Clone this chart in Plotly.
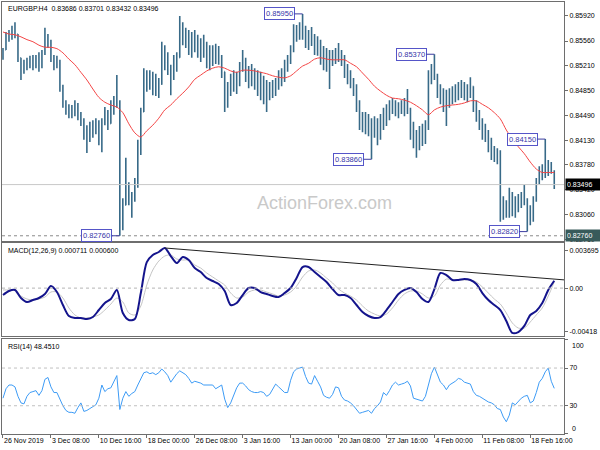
import plotly.graph_objects as go

# ---------------- data (EURGBP H4, each entry = one plotted bar) ----------------
open_ = [
0.8533, 0.8543, 0.8563, 0.8566, 0.8572, 0.8566, 0.8532, 0.8512, 0.8523, 0.8526,
0.8529, 0.8522, 0.8532, 0.8520, 0.8540, 0.8560, 0.8552, 0.8532, 0.8526, 0.8523,
0.8488, 0.8468, 0.8457, 0.8454, 0.8460, 0.8463, 0.8448, 0.8440, 0.8421, 0.8414,
0.8431, 0.8425, 0.8435, 0.8414, 0.8440, 0.8454, 0.8437, 0.8460, 0.8468, 0.8468,
0.8313, 0.8320, 0.8342, 0.8335, 0.8327, 0.8349, 0.8399, 0.8454, 0.8500, 0.8506,
0.8494, 0.8500, 0.8488, 0.8494, 0.8543, 0.8526, 0.8514, 0.8507, 0.8526, 0.8532,
0.8572, 0.8560, 0.8558, 0.8546, 0.8555, 0.8549, 0.8537, 0.8550, 0.8543, 0.8529,
0.8540, 0.8532, 0.8543, 0.8529, 0.8512, 0.8471, 0.8486, 0.8500, 0.8491, 0.8503,
0.8520, 0.8529, 0.8509, 0.8500, 0.8514, 0.8494, 0.8500, 0.8483, 0.8491, 0.8474,
0.8486, 0.8480, 0.8494, 0.8506, 0.8500, 0.8520, 0.8529, 0.8543, 0.8569, 0.8566,
0.8575, 0.8572, 0.8555, 0.8563, 0.8558, 0.8546, 0.8552, 0.8532, 0.8526, 0.8520,
0.8532, 0.8535, 0.8540, 0.8535, 0.8529, 0.8512, 0.8506, 0.8494, 0.8486, 0.8460,
0.8440, 0.8445, 0.8431, 0.8437, 0.8428, 0.8440, 0.8425, 0.8442, 0.8451, 0.8457,
0.8463, 0.8465, 0.8457, 0.8463, 0.8465, 0.8460, 0.8457, 0.8425, 0.8414, 0.8408,
0.8425, 0.8419, 0.8434, 0.8503, 0.8512, 0.8506, 0.8486, 0.8477, 0.8471, 0.8465,
0.8477, 0.8471, 0.8483, 0.8477, 0.8486, 0.8480, 0.8483, 0.8491, 0.8463, 0.8448,
0.8434, 0.8425, 0.8417, 0.8405, 0.8399, 0.8391, 0.8388, 0.8310, 0.8320, 0.8313,
0.8330, 0.8316, 0.8325, 0.8322, 0.8330, 0.8325, 0.8307, 0.8313, 0.8327, 0.8353,
0.8368, 0.8373, 0.8382, 0.8373, 0.83686]

high = [
0.8546, 0.8569, 0.8572, 0.8578, 0.8583, 0.8566, 0.8532, 0.8529, 0.8532, 0.8535,
0.8536, 0.8536, 0.8540, 0.8543, 0.8575, 0.8566, 0.8558, 0.8536, 0.8535, 0.8529,
0.8493, 0.8471, 0.8465, 0.8464, 0.8471, 0.8467, 0.8454, 0.8445, 0.8435, 0.8440,
0.8442, 0.8445, 0.8442, 0.8445, 0.8461, 0.8457, 0.8471, 0.8477, 0.8507, 0.8471,
0.8330, 0.8388, 0.8353, 0.8339, 0.8359, 0.8414, 0.8460, 0.8517, 0.8514, 0.8514,
0.8512, 0.8509, 0.8503, 0.8555, 0.8550, 0.8540, 0.8522, 0.8536, 0.8540, 0.8592,
0.8583, 0.8575, 0.8572, 0.8569, 0.8572, 0.8565, 0.8560, 0.8565, 0.8555, 0.8550,
0.8550, 0.8552, 0.8549, 0.8536, 0.8512, 0.8497, 0.8509, 0.8514, 0.8512, 0.8526,
0.8543, 0.8532, 0.8520, 0.8523, 0.8517, 0.8514, 0.8512, 0.8506, 0.8500, 0.8497,
0.8500, 0.8503, 0.8514, 0.8517, 0.8529, 0.8536, 0.8550, 0.8580, 0.8579, 0.8583,
0.85950, 0.8578, 0.8572, 0.8576, 0.8566, 0.8563, 0.8558, 0.8549, 0.8546, 0.8543,
0.8543, 0.8546, 0.8553, 0.8543, 0.8536, 0.8523, 0.8514, 0.8503, 0.8494, 0.8471,
0.8454, 0.8454, 0.8451, 0.8445, 0.8448, 0.8445, 0.8451, 0.8460, 0.8465, 0.8471,
0.8474, 0.8471, 0.8468, 0.8471, 0.8474, 0.8487, 0.8460, 0.8440, 0.8428, 0.8434,
0.8437, 0.8442, 0.8514, 0.8523, 0.85370, 0.8509, 0.8494, 0.8488, 0.8486, 0.8488,
0.8491, 0.8494, 0.8497, 0.8500, 0.8497, 0.8494, 0.8504, 0.8491, 0.8471, 0.8457,
0.8445, 0.8437, 0.8428, 0.8417, 0.8405, 0.8402, 0.8399, 0.8333, 0.8327, 0.8345,
0.8339, 0.8333, 0.8336, 0.8339, 0.8349, 0.8330, 0.8320, 0.8333, 0.8359, 0.8376,
0.8379, 0.84150, 0.8385, 0.8382, 0.83701]

low = [
0.8529, 0.8543, 0.8555, 0.8558, 0.8560, 0.8526, 0.8500, 0.8509, 0.8514, 0.8517,
0.8514, 0.8517, 0.8512, 0.8517, 0.8536, 0.8546, 0.8526, 0.8514, 0.8517, 0.8483,
0.8460, 0.8450, 0.8445, 0.8445, 0.8448, 0.8442, 0.8434, 0.8414, 0.8395, 0.8411,
0.8417, 0.8422, 0.8406, 0.8396, 0.8435, 0.8428, 0.8437, 0.8450, 0.8460, 0.82760,
0.8284, 0.8320, 0.8320, 0.8302, 0.8325, 0.8345, 0.8392, 0.8454, 0.8483, 0.8486,
0.8478, 0.8477, 0.8474, 0.8493, 0.8514, 0.8507, 0.8478, 0.8500, 0.8512, 0.8532,
0.8550, 0.8546, 0.8536, 0.8532, 0.8540, 0.8532, 0.8526, 0.8532, 0.8517, 0.8514,
0.8520, 0.8523, 0.8522, 0.8503, 0.8454, 0.8460, 0.8477, 0.8483, 0.8480, 0.8491,
0.8512, 0.8497, 0.8488, 0.8491, 0.8486, 0.8477, 0.8471, 0.8465, 0.8454, 0.8471,
0.8474, 0.8477, 0.8486, 0.8491, 0.8497, 0.8512, 0.8523, 0.8540, 0.8555, 0.8558,
0.8558, 0.8546, 0.8543, 0.8549, 0.8536, 0.8535, 0.8522, 0.8514, 0.8512, 0.8487,
0.8520, 0.8523, 0.8526, 0.8520, 0.8503, 0.8494, 0.8488, 0.8477, 0.8454, 0.8428,
0.8425, 0.8422, 0.8419, 0.83860, 0.8417, 0.8406, 0.8414, 0.8428, 0.8434, 0.8442,
0.8451, 0.8448, 0.8445, 0.8451, 0.8448, 0.8451, 0.8414, 0.8402, 0.8388, 0.8399,
0.8405, 0.8408, 0.8428, 0.8494, 0.8500, 0.8474, 0.8465, 0.8454, 0.8434, 0.8460,
0.8465, 0.8468, 0.8471, 0.8474, 0.8471, 0.8468, 0.8474, 0.8454, 0.8440, 0.8428,
0.8414, 0.8411, 0.8396, 0.8385, 0.8382, 0.8379, 0.8296, 0.8299, 0.8302, 0.8302,
0.8304, 0.8302, 0.8310, 0.8316, 0.8320, 0.82820, 0.8291, 0.8296, 0.8325, 0.8350,
0.8356, 0.8359, 0.8362, 0.8365, 0.83432]

close = [
0.8543, 0.8563, 0.8566, 0.8572, 0.8566, 0.8532, 0.8512, 0.8523, 0.8526, 0.8529,
0.8522, 0.8532, 0.8520, 0.8540, 0.8560, 0.8552, 0.8532, 0.8526, 0.8523, 0.8488,
0.8468, 0.8457, 0.8454, 0.8460, 0.8463, 0.8448, 0.8440, 0.8421, 0.8414, 0.8431,
0.8425, 0.8435, 0.8414, 0.8440, 0.8454, 0.8437, 0.8460, 0.8468, 0.8471, 0.8313,
0.8320, 0.8342, 0.8335, 0.8327, 0.8349, 0.8399, 0.8454, 0.8500, 0.8506, 0.8494,
0.8500, 0.8488, 0.8494, 0.8543, 0.8526, 0.8514, 0.8507, 0.8526, 0.8532, 0.8572,
0.8560, 0.8558, 0.8546, 0.8555, 0.8549, 0.8537, 0.8550, 0.8543, 0.8529, 0.8540,
0.8532, 0.8543, 0.8529, 0.8512, 0.8471, 0.8486, 0.8500, 0.8491, 0.8503, 0.8520,
0.8529, 0.8509, 0.8500, 0.8514, 0.8494, 0.8500, 0.8483, 0.8491, 0.8474, 0.8486,
0.8480, 0.8494, 0.8506, 0.8500, 0.8520, 0.8529, 0.8543, 0.8569, 0.8566, 0.8575,
0.8572, 0.8555, 0.8563, 0.8558, 0.8546, 0.8552, 0.8532, 0.8526, 0.8520, 0.8532,
0.8535, 0.8540, 0.8535, 0.8529, 0.8512, 0.8506, 0.8494, 0.8486, 0.8460, 0.8440,
0.8445, 0.8431, 0.8437, 0.8428, 0.8440, 0.8425, 0.8442, 0.8451, 0.8457, 0.8463,
0.8465, 0.8457, 0.8463, 0.8465, 0.8460, 0.8457, 0.8425, 0.8414, 0.8408, 0.8425,
0.8419, 0.8434, 0.8503, 0.8512, 0.8506, 0.8486, 0.8477, 0.8471, 0.8465, 0.8477,
0.8471, 0.8483, 0.8477, 0.8486, 0.8480, 0.8483, 0.8491, 0.8463, 0.8448, 0.8434,
0.8425, 0.8417, 0.8405, 0.8399, 0.8391, 0.8388, 0.8310, 0.8320, 0.8313, 0.8330,
0.8316, 0.8325, 0.8322, 0.8330, 0.8325, 0.8307, 0.8313, 0.8327, 0.8353, 0.8368,
0.8373, 0.8382, 0.8373, 0.83686, 0.83496]

# red moving average, read every second bar
ma = [
0.8569, 0.8566, 0.8565, 0.8562, 0.8558, 0.8555, 0.8550, 0.8547, 0.8547, 0.8545,
0.8539, 0.8530, 0.8522, 0.8511, 0.8500, 0.8487, 0.8475, 0.8468, 0.8464, 0.8461,
0.8453, 0.8437, 0.8424, 0.8418, 0.8427, 0.8435, 0.8445, 0.8457, 0.8464, 0.8473,
0.8481, 0.8490, 0.8501, 0.8507, 0.8513, 0.8517, 0.8519, 0.8517, 0.8513, 0.8511,
0.8514, 0.8514, 0.8513, 0.8511, 0.8509, 0.8506, 0.8504, 0.8503, 0.8506, 0.8513,
0.8520, 0.8524, 0.8530, 0.8532, 0.8530, 0.8529, 0.8529, 0.8529, 0.8524, 0.8519,
0.8510, 0.8501, 0.8491, 0.8484, 0.8478, 0.8474, 0.8473, 0.8471, 0.8468, 0.8463,
0.8457, 0.8450, 0.8457, 0.8461, 0.8463, 0.8464, 0.8465, 0.8467, 0.8470, 0.8470,
0.8465, 0.8460, 0.8453, 0.8444, 0.8428, 0.8415, 0.8404, 0.8394, 0.8382, 0.8372,
0.8367, 0.8367, 0.8367]

macd = [
-0.00067, -0.00028, -0.00018, -0.00096, -0.00135, -0.00116, -0.00096, -0.00057, 0.00020, -0.00038,
-0.00164, -0.00271, -0.00290, -0.00290, -0.00300, -0.00281, -0.00213, -0.00145, -0.00106, -0.00018,
-0.00242, -0.00310, -0.00300, -0.00048, 0.00253, 0.00322, 0.00351, 0.00390, 0.00312, 0.00244,
0.00302, 0.00273, 0.00195, 0.00156, 0.00098, 0.00069, 0.00040, -0.00028, -0.00164, -0.00145,
-0.00067, 0.00001, 0.00001, -0.00038, -0.00057, -0.00077, -0.00087, -0.00048, 0.00001, 0.00098,
0.00205, 0.00205, 0.00156, 0.00108, 0.00059, -0.00009, -0.00067, -0.00067, -0.00096, -0.00164,
-0.00232, -0.00271, -0.00290, -0.00281, -0.00213, -0.00135, -0.00057, -0.00018, 0.00001, -0.00038,
-0.00106, -0.00135, -0.00009, 0.00147, 0.00127, 0.00079, 0.00079, 0.00088, 0.00079, 0.00040,
-0.00048, -0.00116, -0.00164, -0.00213, -0.00320, -0.00436, -0.00427, -0.00368, -0.00261, -0.00222,
-0.00145, -0.00018, 0.000711]

signal = [
-0.00018, -0.00018, -0.00018, -0.00077, -0.00106, -0.00116, -0.00106, -0.00087, -0.00038, -0.00038,
-0.00096, -0.00193, -0.00261, -0.00290, -0.00290, -0.00281, -0.00261, -0.00213, -0.00155, -0.00096,
-0.00135, -0.00242, -0.00261, -0.00174, 0.00030, 0.00176, 0.00263, 0.00312, 0.00322, 0.00283,
0.00273, 0.00273, 0.00225, 0.00195, 0.00147, 0.00108, 0.00069, 0.00030, -0.00048, -0.00096,
-0.00087, -0.00038, -0.00018, -0.00018, -0.00038, -0.00057, -0.00077, -0.00067, -0.00038, 0.00020,
0.00108, 0.00166, 0.00176, 0.00147, 0.00098, 0.00050, -0.00009, -0.00048, -0.00077, -0.00116,
-0.00174, -0.00223, -0.00252, -0.00271, -0.00252, -0.00193, -0.00116, -0.00057, -0.00028, -0.00028,
-0.00057, -0.00096, -0.00077, 0.00030, 0.00088, 0.00079, 0.00079, 0.00079, 0.00079, 0.00059,
0.00011, -0.00048, -0.00106, -0.00155, -0.00242, -0.00339, -0.00388, -0.00388, -0.00329, -0.00261,
-0.00193, -0.00077, 0.000600]

macd_trend_x = [54, 187.3]
macd_trend_y = [0.00390, 0.00080]

rsi = [
38, 48, 52, 52, 50, 40, 33, 32, 40, 44,
45, 46, 41, 46, 58, 60, 50, 44, 44, 36,
30, 25, 23, 23, 22, 28, 33, 24, 25, 27,
29, 31, 38, 52, 45, 48, 49, 56, 62, 26,
38, 45, 40, 43, 45, 52, 58, 65, 66, 64,
65, 63, 65, 69, 66, 62, 55, 60, 64, 67,
65, 63, 59, 54, 56, 55, 54, 52, 52, 52,
52, 48, 50, 52, 37, 28, 33, 41, 49, 54,
54, 51, 47, 45, 44, 44, 45, 44, 40, 42,
48, 53, 50, 47, 44, 44, 57, 66, 69, 70,
71, 61, 54, 53, 62, 56, 50, 41, 39, 38,
42, 50, 49, 40, 36, 35, 33, 30, 26, 22,
23, 24, 25, 22, 27, 30, 34, 44, 41, 46,
52, 55, 52, 53, 54, 56, 51, 38, 37, 36,
35, 40, 52, 64, 71, 62, 55, 52, 47, 52,
54, 56, 59, 58, 55, 54, 53, 45, 41, 40,
38, 36, 34, 33, 31, 27, 26, 18, 13, 20,
33, 31, 35, 38, 40, 41, 33, 35, 44, 55,
59, 66, 70, 56, 48.451]

time_labels = ["26 Nov 2019", "3 Dec 08:00", "10 Dec 16:00", "18 Dec 00:00", "26 Dec 08:00",
               "3 Jan 16:00", "13 Jan 00:00", "20 Jan 08:00", "27 Jan 16:00", "4 Feb 00:00",
               "11 Feb 08:00", "18 Feb 16:00"]
time_label_bars = [0, 16, 32, 48, 64, 80, 96, 112, 128, 144, 160, 176]

price_ticks = [0.85920, 0.85560, 0.85210, 0.84850, 0.84490, 0.84130, 0.83780, 0.83420, 0.83060, 0.82710]

swing_levels = [0.85950, 0.85370, 0.83860, 0.84150, 0.82820, 0.82760]
swing_bars = [100, 144, 123, 181, 175, 39]

last_price = 0.83496
support_level = 0.82760

# ---------------- figure ----------------
FONT = "Liberation Sans, Arial, sans-serif"
BAR = "#386a88"
bar_x = list(range(len(close)))
ma_x = list(range(0, len(close), 2))
XR = [-0.33, 187.25]

fig = go.Figure()
fig.add_trace(go.Ohlc(x=bar_x, open=open_, high=high, low=low, close=close,
                      increasing=dict(line=dict(color=BAR, width=1.6)),
                      decreasing=dict(line=dict(color=BAR, width=1.6)),
                      tickwidth=0.2, xaxis="x", yaxis="y", hoverinfo="skip", showlegend=False))
fig.add_trace(go.Scatter(x=ma_x, y=ma, mode="lines", line=dict(color="#f34545", width=1, shape="spline", smoothing=0.8),
                         xaxis="x", yaxis="y", hoverinfo="skip", showlegend=False))
fig.add_trace(go.Scatter(x=ma_x, y=signal, mode="lines", line=dict(color="#c4c4c4", width=1, shape="spline", smoothing=0.8),
                         xaxis="x2", yaxis="y2", hoverinfo="skip", showlegend=False))
fig.add_trace(go.Scatter(x=ma_x, y=macd, mode="lines", line=dict(color="#14148c", width=2, shape="spline", smoothing=0.8),
                         xaxis="x2", yaxis="y2", hoverinfo="skip", showlegend=False))
fig.add_trace(go.Scatter(x=macd_trend_x, y=macd_trend_y, mode="lines", line=dict(color="#222222", width=1),
                         xaxis="x2", yaxis="y2", hoverinfo="skip", showlegend=False))
fig.add_trace(go.Scatter(x=bar_x, y=rsi, mode="lines", line=dict(color="#3d9bf5", width=1),
                         xaxis="x3", yaxis="y3", hoverinfo="skip", showlegend=False))

frame = dict(showline=True, mirror=True, linecolor="#6e6e6e", linewidth=1, showgrid=False, zeroline=False)
tickf = dict(family=FONT, size=7, color="#000000")

fig.update_layout(
    width=600, height=450, autosize=False,
    margin=dict(l=1, r=34, t=2, b=16),
    paper_bgcolor="white", plot_bgcolor="white",
    hovermode=False, showlegend=False,
    font=dict(family=FONT, size=7, color="#000000"),
    xaxis=dict(domain=[0, 1], anchor="y", range=XR, showticklabels=False, ticks="",
               rangeslider=dict(visible=False), **frame),
    xaxis2=dict(domain=[0, 1], anchor="y2", range=XR, showticklabels=False, ticks="", matches="x", **frame),
    xaxis3=dict(domain=[0, 1], anchor="y3", range=XR, matches="x", ticks="outside", ticklen=3, tickcolor="#6e6e6e",
                tickvals=time_label_bars, ticktext=time_labels, ticklabelposition="outside right",
                tickangle=0, tickfont=tickf, **frame),
    yaxis=dict(domain=[0.4479, 1.0], anchor="x", range=[0.82692, 0.86121], side="right",
               tickvals=price_ticks, ticktext=[f"{v:.5f}" for v in price_ticks],
               ticks="outside", ticklen=3, tickcolor="#6e6e6e", tickfont=tickf, **frame),
    yaxis2=dict(domain=[0.2257, 0.4414], anchor="x2", range=[-0.004704, 0.004355], side="right",
                tickvals=[0.003695, 0.0, -0.00418], ticktext=["0.003695", "0.00", "-0.00418"],
                ticks="outside", ticklen=3, tickcolor="#6e6e6e", tickfont=tickf, **frame),
    yaxis3=dict(domain=[0.0, 0.2192], anchor="x3", range=[0, 100.5], side="right",
                tickvals=[0, 30, 70, 100], ticktext=["", "30", "70", ""],
                ticks="outside", ticklen=3, tickcolor="#6e6e6e", tickfont=tickf, **frame),
)

shapes = [
    dict(type="line", xref="x domain", yref="y", x0=0, x1=1, y0=last_price, y1=last_price,
         line=dict(color="#c8c8c8", width=1)),
    dict(type="line", xref="x domain", yref="y", x0=0, x1=1, y0=support_level, y1=support_level,
         line=dict(color="#8a8a8a", width=1, dash="dot")),
    dict(type="line", xref="x2 domain", yref="y2", x0=0, x1=1, y0=0, y1=0,
         line=dict(color="#b4b4b4", width=1, dash="dot")),
    dict(type="line", xref="x3 domain", yref="y3", x0=0, x1=1, y0=70, y1=70,
         line=dict(color="#c0c0c0", width=1, dash="3px,3px")),
    dict(type="line", xref="x3 domain", yref="y3", x0=0, x1=1, y0=30, y1=30,
         line=dict(color="#c0c0c0", width=1, dash="3px,3px")),
]
fig.update_layout(shapes=shapes)

ann = [
    dict(xref="x domain", yref="y domain", x=0, y=1, xanchor="left", yanchor="top", xshift=4, yshift=-1,
         text="EURGBP.H4 \u00a00.83686 0.83701 0.83432 0.83496", showarrow=False,
         font=dict(family=FONT, size=7, color="#000000")),
    dict(xref="x2 domain", yref="y2 domain", x=0, y=1, xanchor="left", yanchor="top", xshift=4, yshift=-2,
         text="MACD(12,26,9) 0.000711 0.000600", showarrow=False,
         font=dict(family=FONT, size=7, color="#000000")),
    dict(xref="x3 domain", yref="y3 domain", x=0, y=1, xanchor="left", yanchor="top", xshift=4, yshift=-2,
         text="RSI(14) 48.4510", showarrow=False,
         font=dict(family=FONT, size=7, color="#000000")),
    dict(xref="x domain", yref="y domain", x=0.574, y=0.107, text="ActionForex.com", showarrow=False,
         font=dict(family=FONT, size=18, color="#c9c9c9")),
    dict(xref="x3 domain", yref="y3", x=1, y=100, xanchor="left", yanchor="top", xshift=6, text="100",
         showarrow=False, font=tickf),
    dict(xref="x3 domain", yref="y3", x=1, y=0, xanchor="left", yanchor="bottom", xshift=6, text="0",
         showarrow=False, font=tickf),
    dict(xref="x domain", yref="y", x=1, y=last_price, xanchor="left", xshift=1, text=f"{last_price:.5f}",
         showarrow=False, bgcolor="#000000", width=32, height=9, align="left",
         font=dict(family=FONT, size=7, color="#ffffff")),
    dict(xref="x domain", yref="y", x=1, y=support_level, xanchor="left", xshift=1, text=f"{support_level:.5f}",
         showarrow=False, bgcolor="#385a5a", width=32, height=9, align="left",
         font=dict(family=FONT, size=7, color="#ffffff")),
]
for lvl, b in zip(swing_levels, swing_bars):
    ann.append(dict(xref="x", yref="y", x=b, y=lvl, text=f"{lvl:.5f}", showarrow=True,
                    arrowhead=0, arrowwidth=1, arrowcolor="#3c3ca0", ax=-23, ay=0, standoff=0,
                    bordercolor="#5555c8", borderwidth=1, borderpad=1, bgcolor="#ffffff",
                    font=dict(family=FONT, size=7.5, color="#3434a8")))
fig.update_layout(annotations=ann)

fig.write_html("out.html", config={"displayModeBar": False},
               post_script="document.body.style.margin='0';document.body.style.overflow='hidden';")
